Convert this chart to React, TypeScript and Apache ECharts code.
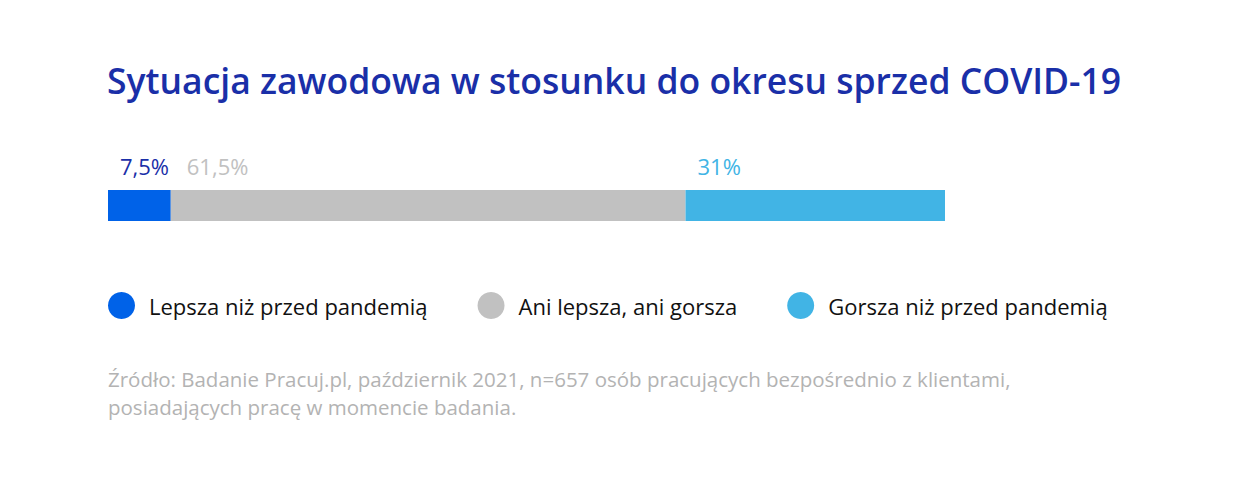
import React, { useEffect, useRef } from "react";
import * as echarts from "echarts";

const titleText = "Sytuacja zawodowa w stosunku do okresu sprzed COVID-19";
const categories = ["Sytuacja"];
const seriesNames = ["Lepsza niż przed pandemią", "Ani lepsza, ani gorsza", "Gorsza niż przed pandemią"];
const seriesValues = [7.5, 61.5, 31];
const valueLabels = ["7,5%", "61,5%", "31%"];
const seriesColors = ["#0062e8", "#c1c1c1", "#41b4e5"];
const labelColors = ["#1a2fa8", "#c1c1c1", "#41b4e5"];
const sourceLines = [
  "Źródło: Badanie Pracuj.pl, październik 2021, n=657 osób pracujących bezpośrednio z klientami,",
  "posiadających pracę w momencie badania.",
];

export default function App() {
  const ref = useRef<HTMLDivElement>(null);
  useEffect(() => {
    if (!ref.current) return;
    const chart = echarts.init(ref.current, null, { renderer: "svg" });
    const font = "'Open Sans', sans-serif";
    chart.setOption({
      animation: false,
      backgroundColor: "#ffffff",
      textStyle: { fontFamily: font },
      title: {
        text: titleText,
        left: 102,
        top: 57,
        textStyle: { fontFamily: font, fontSize: 35.5, fontWeight: 600, color: "#1a2fa8" },
      },
      grid: { left: 108, width: 837, top: 190, height: 31, containLabel: false },
      xAxis: { type: "value", min: 0, max: 100, show: false },
      yAxis: { type: "category", data: categories, show: false },
      legend: {
        left: 108,
        top: 292,
        padding: 0,
        icon: "circle",
        itemWidth: 27,
        itemHeight: 27,
        itemGap: 50,
        textStyle: { fontFamily: font, fontSize: 22, color: "#111111", padding: [0, 0, 0, 9] },
        data: seriesNames,
      },
      series: seriesNames.map((name, i) => ({
        name,
        type: "bar",
        stack: "total",
        barWidth: 31,
        data: [seriesValues[i]],
        itemStyle: { color: seriesColors[i] },
        label: {
          show: true,
          position: [i === 1 ? 16 : 12, -35],
          formatter: valueLabels[i],
          fontFamily: font,
          fontSize: 22,
          color: labelColors[i],
        },
      })),
      graphic: sourceLines.map((t, i) => ({
        type: "text",
        left: 108,
        top: 368 + i * 28,
        style: { text: t, fontFamily: font, fontSize: 20.5, fill: "#b3b3b3" },
      })),
    });
    return () => chart.dispose();
  }, []);
  return (
    <div
      ref={ref}
      style={{ position: "fixed", left: 0, top: 0, width: 1240, height: 494 }}
    />
  );
}
